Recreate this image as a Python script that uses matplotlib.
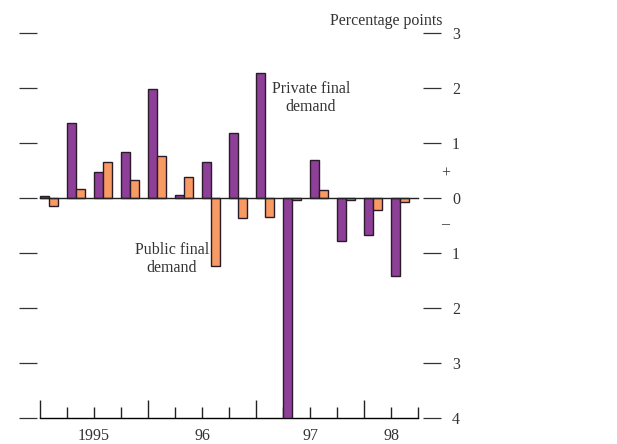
import numpy as np
import matplotlib
matplotlib.use("Agg")
import matplotlib.pyplot as plt
from matplotlib.ticker import FixedLocator

# quarterly contributions, 1995Q1 - 1998Q2 (percentage points)
quarters = ["95Q1", "95Q2", "95Q3", "95Q4", "96Q1", "96Q2", "96Q3", "96Q4",
            "97Q1", "97Q2", "97Q3", "97Q4", "98Q1", "98Q2"]
private_demand = [0.04, 1.36, 0.48, 0.84, 1.99, 0.06, 0.66, 1.18,
                  2.27, -4.0, 0.69, -0.79, -0.68, -1.42]
public_demand = [-0.14, 0.17, 0.66, 0.32, 0.76, 0.38, -1.24, -0.37,
                 -0.35, -0.04, 0.14, -0.04, -0.21, -0.07]
year_labels = ["1995", "96", "97", "98"]
year_label_pos = [2, 6, 10, 13]
ytick_vals = [3, 2, 1, 0, -1, -2, -3, -4]

plt.rcParams['font.family'] = ['Liberation Serif', 'DejaVu Serif']
fs = 11.5

fig = plt.figure(figsize=(6.17, 4.44), dpi=100)
ax = fig.add_axes([19/617, 26/444, 422/617, 385/444])

x = np.arange(len(quarters))
w = 1/3
ax.bar(x, private_demand, width=w, align='edge', color='#8e3f98',
       edgecolor='#2a1a2a', linewidth=1.0, zorder=3)
ax.bar(x + w, public_demand, width=w, align='edge', color='#f89a63',
       edgecolor='#2a1a2a', linewidth=1.0, zorder=3)
ax.axhline(0, xmin=(0 + 0.78)/15.63, xmax=(14 + 0.78)/15.63,
           color='#222222', linewidth=1.0, zorder=4)

ax.set_xlim(-0.78, 14.85)
ax.set_ylim(-4, 3)

for s in ['top', 'left', 'right']:
    ax.spines[s].set_visible(False)
ax.spines['bottom'].set_bounds(0, 14)
ax.spines['bottom'].set_linewidth(1.0)

# x ticks: tall at year starts, short at quarters
ax.xaxis.set_major_locator(FixedLocator([0, 4, 8, 12]))
ax.xaxis.set_minor_locator(FixedLocator([1, 2, 3, 5, 6, 7, 9, 10, 11, 13, 14]))
ax.tick_params(axis='x', which='major', direction='in', length=13, width=1.0,
               labelbottom=False, color='#222222')
ax.tick_params(axis='x', which='minor', direction='in', length=8, width=1.0,
               color='#222222')
for lab, pos in zip(year_labels, year_label_pos):
    ax.text(pos, -0.025, lab, transform=ax.get_xaxis_transform(),
            ha='center', va='top', fontsize=fs, color='#333333')

# y ticks on both sides, labels on the right as absolute values
ax.set_yticks(ytick_vals)
ax.set_yticklabels([str(abs(v)) for v in ytick_vals])
ax.tick_params(axis='y', direction='in', length=13, width=0.9, left=True,
               right=True, labelleft=False, labelright=True, pad=8,
               labelsize=fs, color='#333333', labelcolor='#333333')

ax.text(1.01, 0.45, "+", transform=ax.get_yaxis_transform(), fontsize=fs,
        ha='center', va='center', color='#333333')
ax.text(1.01, -0.47, "\u2013", transform=ax.get_yaxis_transform(), fontsize=fs,
        ha='center', va='center', color='#333333')
ax.text(442/617, 1 - 21/444, "Percentage points", transform=fig.transFigure,
        ha='right', va='center', fontsize=fs, color='#333333')

ax.text(311/617, 1 - 98/444, "Private final\ndemand", transform=fig.transFigure,
        ha='center', va='center', fontsize=fs, color='#333333',
        linespacing=1.2)
ax.text(172/617, 1 - 259/444, "Public final\ndemand", transform=fig.transFigure,
        ha='center', va='center', fontsize=fs, color='#333333',
        linespacing=1.2)

fig.savefig("out.png", dpi=100)
